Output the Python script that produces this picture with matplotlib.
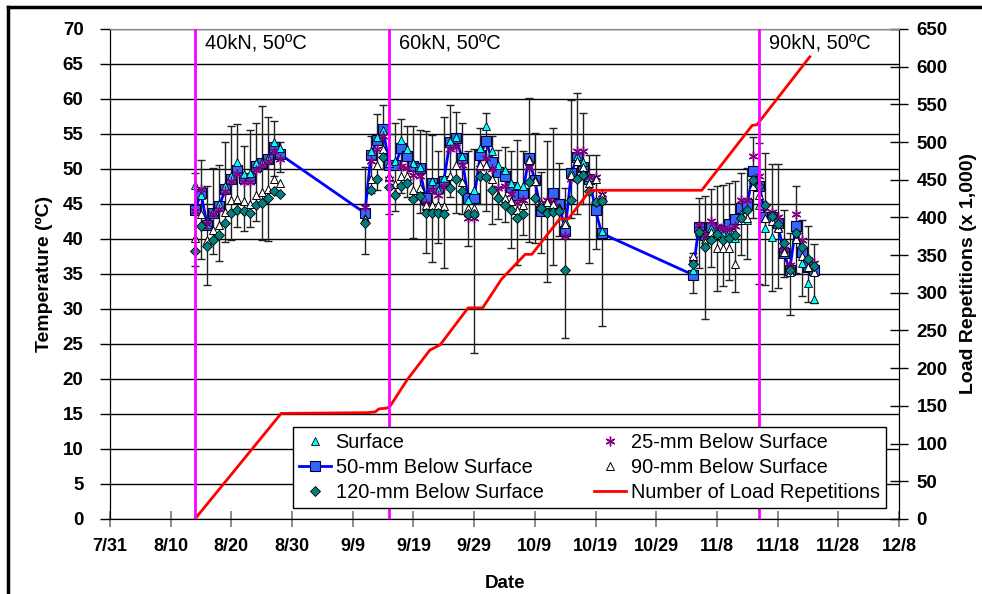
import numpy as np
import pandas as pd
import matplotlib
matplotlib.use('Agg')
import matplotlib.pyplot as plt
from matplotlib.lines import Line2D

plt.rcParams['font.family'] = ['Liberation Sans', 'DejaVu Sans']

YEAR = 2003

# measurement days (one reading per day)
dates = ['8/14', '8/15', '8/16', '8/17', '8/18', '8/19', '8/20', '8/21', '8/22', '8/23',
         '8/24', '8/25', '8/26', '8/27', '8/28',
         '9/11',
         '9/12', '9/13', '9/14', '9/15', '9/16', '9/17', '9/18', '9/19', '9/20', '9/21',
         '9/22', '9/23', '9/24', '9/25', '9/26', '9/27', '9/28', '9/29', '9/30',
         '10/1', '10/2', '10/3', '10/4', '10/5', '10/6', '10/7', '10/8', '10/9', '10/10',
         '10/11', '10/12', '10/13', '10/14', '10/15', '10/16', '10/17', '10/18', '10/19', '10/20',
         '11/4', '11/5', '11/6', '11/7', '11/8', '11/9', '11/10', '11/11', '11/12', '11/13',
         '11/14', '11/15', '11/16', '11/17', '11/18', '11/19', '11/20', '11/21', '11/22', '11/23',
         '11/24']

surface = [47.7, 46.3, 42.2, 43.9, 45.0, 47.6, 49.0, 51.0, 49.3, 49.4, 50.9, 51.0, 51.6, 53.9, 53.0,
           43.0,
           52.5, 54.5, 55.5, 50.9, 51.1, 54.2, 52.8, 50.8, 50.3, 44.7, 48.3, 47.0, 48.7, 54.0, 54.6,
           51.8, 45.5, 47.0, 53.0,
           56.1, 52.5, 50.5, 49.8, 48.0, 47.7, 47.6, 51.4, 48.6, 44.7, 45.0, 44.7, 44.5, 42.5, 49.6,
           51.8, 51.0, 48.9, 45.4, 41.2,
           35.5, 41.0, 40.0, 41.5, 40.5, 40.8, 41.0, 40.1, 43.5, 42.7, 48.5, 44.9, 41.5, 40.3, 41.7,
           38.7, 36.3, 40.2, 36.5, 33.7, 31.4]

mm25 = [44.0, 47.1, 42.1, 43.6, 44.3, 46.8, 48.3, 49.3, 48.1, 48.1, 49.8, 50.5, 51.2, 52.5, 51.4,
        44.5,
        51.1, 52.8, 54.7, 48.5, 47.6, 50.4, 50.1, 49.2, 49.0, 45.1, 47.0, 46.3, 47.5, 52.8, 53.2,
        50.6, 43.0, 43.0, 50.1,
        51.6, 50.0, 47.3, 47.5, 46.4, 45.1, 45.5, 50.3, 48.0, 45.1, 45.6, 45.3, 44.0, 40.4, 48.6,
        52.5, 52.5, 48.9, 48.9, 46.4,
        37.2, 42.0, 40.5, 42.5, 41.9, 41.5, 41.4, 41.8, 45.6, 45.6, 51.9, 49.0, 44.4, 43.8, 43.2,
        38.5, 36.3, 43.6, 39.9, 37.0, 36.5]

mm50 = [44.2, 46.5, 42.0, 43.7, 44.7, 47.1, 48.6, 49.8, 48.7, 48.7, 50.4, 50.8, 51.4, 53.1, 52.1,
        43.7,
        52.0, 54.2, 55.7, 50.6, 50.5, 53.0, 51.8, 50.4, 50.1, 45.9, 48.0, 47.3, 48.3, 53.8, 54.4,
        51.6, 45.9, 45.9, 52.0,
        54.0, 51.0, 49.5, 49.0, 47.4, 46.3, 46.6, 51.5, 48.4, 44.0, 44.6, 46.5, 45.0, 41.2, 49.4,
        51.7, 50.3, 48.5, 44.1, 40.8,
        34.9, 41.7, 40.5, 41.7, 40.8, 41.3, 42.2, 42.9, 44.4, 45.0, 49.7, 47.6, 43.1, 43.1, 42.3,
        38.0, 35.6, 41.8, 38.1, 36.0, 35.6]

mm90 = [40.1, 43.5, 39.9, 41.3, 42.0, 43.8, 45.6, 45.7, 45.4, 45.0, 46.3, 46.7, 47.1, 48.5, 48.0,
        42.8,
        48.5, 50.5, 52.9, 49.0, 47.9, 49.0, 49.0, 47.0, 47.3, 44.9, 44.9, 44.8, 44.7, 49.0, 50.6,
        48.1, 44.4, 44.4, 50.5,
        50.6, 48.5, 46.3, 45.9, 45.4, 44.1, 44.8, 51.3, 48.3, 45.0, 45.3, 45.0, 44.4, 42.2, 49.2,
        51.2, 50.3, 48.0, 48.6, 46.1,
        37.5, 41.3, 39.5, 41.0, 38.7, 38.7, 38.7, 36.4, 42.7, 43.0, 47.5, 46.3, 43.0, 42.5, 41.5,
        38.2, 35.3, 40.0, 37.5, 36.0, 35.3]

mm120 = [38.3, 41.8, 39.0, 39.8, 40.5, 42.3, 43.7, 44.2, 44.0, 43.7, 44.9, 45.2, 45.8, 46.8, 46.4,
         42.3,
         47.0, 48.6, 51.7, 47.4, 46.3, 47.5, 48.0, 45.7, 46.1, 43.7, 43.7, 43.7, 43.5, 47.3, 48.6,
         46.8, 43.5, 43.5, 49.0,
         48.8, 47.0, 45.8, 44.9, 44.1, 43.0, 43.5, 48.2, 45.9, 44.4, 43.7, 43.8, 44.0, 35.5, 45.6,
         48.6, 49.1, 46.8, 45.3, 45.4,
         36.4, 41.0, 38.8, 39.8, 40.7, 39.8, 40.1, 40.6, 43.0, 44.1, 48.4, 47.6, 44.9, 43.3, 42.2,
         39.4, 35.5, 40.9, 38.8, 37.1, 36.2]

# daily max / min shown as bars on the 50-mm series
t_high = [49.4, 51.3, 47.5, 50.1, 50.6, 53.9, 56.1, 56.4, 53.3, 55.6, 56.5, 59.0, 57.4, 56.9, 53.8,
          50.3,
          54.7, 57.9, 59.1, 55.0, 56.5, 57.1, 56.1, 56.1, 55.6, 55.4, 54.9, 52.5, 57.4, 59.2, 58.2,
          56.6, 52.5, 52.8, 55.9,
          58.0, 54.7, 52.7, 53.2, 52.5, 54.2, 52.5, 60.1, 55.1, 49.6, 54.0, 55.9, 50.8, 47.3, 59.9,
          60.9, 58.0, 52.0, 52.0, 45.8,
          38.0, 45.8, 46.1, 47.1, 47.6, 47.7, 48.0, 48.3, 49.4, 50.1, 54.6, 53.7, 52.3, 50.7, 50.7,
          44.1, 40.8, 47.6, 42.7, 41.9, 39.3]

t_low = [36.2, 37.2, 33.4, 37.8, 36.9, 39.5, 39.8, 41.7, 41.2, 41.7, 42.6, 39.9, 39.7, 49.0, 49.5,
         37.8,
         46.5, 47.0, 50.0, 43.5, 44.0, 46.5, 46.0, 40.1, 43.7, 38.0, 36.7, 39.4, 35.9, 46.0, 43.7,
         43.5, 39.0, 23.7, 45.0,
         44.0, 42.1, 42.9, 42.4, 38.7, 36.3, 40.5, 39.5, 39.4, 38.0, 33.8, 36.3, 40.4, 25.8, 43.0,
         43.5, 45.0, 36.5, 38.5, 27.6,
         32.3, 35.8, 28.6, 36.0, 32.5, 33.3, 34.1, 32.4, 37.7, 37.2, 43.0, 33.5, 33.4, 32.5, 33.0,
         34.6, 29.1, 35.1, 31.8, 31.0, 30.8]

# cumulative load repetitions (x 1,000), days after 7/31
load_days = [14.0, 28.2, 42.3, 43.7, 44.3, 45.6, 46.1, 49.0, 52.7, 54.4, 59.0, 61.4, 64.5,
             68.4, 69.5, 74.1, 75.5, 79.1, 97.5, 105.8, 106.6, 115.3]
load_reps = [0, 140, 141, 142, 146, 147, 149, 185, 224, 231, 280, 280, 318,
             351, 351, 398, 398, 436, 436, 522, 523, 613]

load_change_dates = ['8/14', '9/15', '11/15']
load_change_text = ['40kN, 50\u00baC', '60kN, 50\u00baC', '90kN, 50\u00baC']

tick_start = '7/31'
n_ticks = 14


def to_date(s):
    m, d = s.split('/')
    return pd.Timestamp(year=YEAR, month=int(m), day=int(d))


x = [to_date(s) for s in dates]
start = to_date(tick_start)
load_x = [start + pd.Timedelta(days=d) for d in load_days]
xticks = [start + pd.Timedelta(days=10 * i) for i in range(n_ticks)]

fig = plt.figure(figsize=(9.82, 5.94), dpi=100)
ax = fig.add_axes([0.112, 0.1263, 0.8035, 0.825])
ax2 = ax.twinx()

ax.set_ylim(0, 70)
ax.set_yticks(np.arange(0, 71, 5))
ax2.set_ylim(0, 650)
ax2.set_yticks(np.arange(0, 651, 50))
ax.set_xlim(xticks[0], xticks[-1])
ax.set_xticks(xticks)
ax.set_xticklabels([f"{d.month}/{d.day}" for d in xticks])

ax.grid(axis='y', color='black', lw=1)
ax.set_axisbelow(True)

mm50_a = np.array(mm50)
err = [np.clip(mm50_a - np.array(t_low), 0, None), np.clip(np.array(t_high) - mm50_a, 0, None)]
ax.errorbar(x, mm50, yerr=err, fmt='none', ecolor='#222222', elinewidth=1, capsize=3.2,
            capthick=1, zorder=2)

ax.plot(x, mm50, color='#0000ff', lw=2, marker='s', ms=6.8, mfc='#3366ff', mec='#000033',
        mew=0.8, zorder=3)
ax.plot(x, surface, ls='none', marker='^', ms=6.3, mfc='#00ffff', mec='black', mew=0.6, zorder=4)
ax.plot(x, mm25, ls='none', marker=(6, 2, 0), ms=7, mec='#800080', mew=1, zorder=4)
ax.plot(x, mm90, ls='none', marker='^', ms=6.3, mfc='white', mec='black', mew=0.7, zorder=4)
ax.plot(x, mm120, ls='none', marker='D', ms=5.3, mfc='#008080', mec='black', mew=0.6, zorder=5)

ax2.plot(load_x, load_reps, color='#ff0000', lw=2, zorder=3)

for d, t in zip(load_change_dates, load_change_text):
    xd = to_date(d)
    ax2.axvline(xd, color='#ff00ff', lw=2, zorder=4)
    ax2.text(xd + pd.Timedelta(days=1.6), 68, t, transform=ax.transData, fontsize=14.4,
             va='center', ha='left')

for s in ['left', 'right', 'bottom']:
    ax2.spines[s].set_color('black')
ax2.spines['top'].set_color('#888888')
ax.spines['top'].set_color('#888888')

ax.tick_params(axis='y', direction='out', length=7, width=1, labelsize=13.5, pad=12)
ax.tick_params(axis='x', direction='inout', length=12, width=1.2, color='#777777',
               labelsize=13, pad=8)
ax2.tick_params(axis='y', direction='inout', length=13, width=1, labelsize=13.5, pad=6)
for lab in ax.get_xticklabels() + ax.get_yticklabels() + ax2.get_yticklabels():
    lab.set_fontweight('bold')

ax.set_ylabel('Temperature (\u00baC)', fontsize=14, fontweight='bold', labelpad=7)
ax2.set_ylabel('Load Repetitions (x 1,000)', fontsize=14, fontweight='bold', labelpad=9)
ax.set_xlabel('Date', fontsize=13.5, fontweight='bold', labelpad=14)

handles = [
    Line2D([], [], ls='none', marker='^', ms=6.3, mfc='#00ffff', mec='black', mew=0.6),
    Line2D([], [], color='#0000ff', lw=2, marker='s', ms=6.8, mfc='#3366ff', mec='#000033', mew=0.8),
    Line2D([], [], ls='none', marker='D', ms=5.3, mfc='#008080', mec='black', mew=0.6),
    Line2D([], [], ls='none', marker=(6, 2, 0), ms=7, mec='#800080', mew=1),
    Line2D([], [], ls='none', marker='^', ms=6.3, mfc='white', mec='black', mew=0.7),
    Line2D([], [], color='#ff0000', lw=2),
]
labels = ['Surface', '50-mm Below Surface', '120-mm Below Surface',
          '25-mm Below Surface', '90-mm Below Surface', 'Number of Load Repetitions']
leg = ax2.legend(handles, labels, ncol=2, loc='lower left', mode='expand',
                 bbox_to_anchor=(0.298, 0.145, 0.604, 0.128), bbox_transform=fig.transFigure,
                 borderaxespad=0, fontsize=14.4, frameon=True, fancybox=False, framealpha=1,
                 edgecolor='black', handlelength=1.6, handletextpad=0.25, labelspacing=0.3,
                 borderpad=0.3)
leg.get_frame().set_linewidth(1)
leg.set_zorder(10)

# chart border (top and left visible)
fig.add_artist(Line2D([8 / 982, 1], [1 - 7 / 594, 1 - 7 / 594], transform=fig.transFigure,
                      color='black', lw=2.5))
fig.add_artist(Line2D([8 / 982, 8 / 982], [0, 1 - 7 / 594], transform=fig.transFigure,
                      color='black', lw=2.5))

fig.savefig('out.png', dpi=100)
